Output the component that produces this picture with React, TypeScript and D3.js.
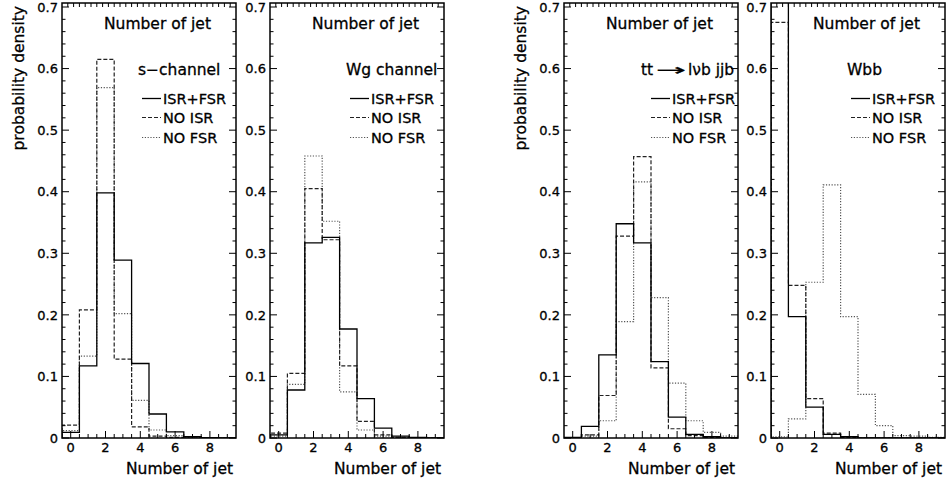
import React from "react";
import * as d3 from "d3";

// ---- data (probability density per jet-multiplicity bin, bins 0..9) ----
const binCenters = [0, 1, 2, 3, 4, 5, 6, 7, 8, 9];
const legendLabels = ["ISR+FSR", "NO ISR", "NO FSR"];
const xTickValues = [0, 2, 4, 6, 8];
const yTickValues = [0, 0.1, 0.2, 0.3, 0.4, 0.5, 0.6, 0.7];

const sChannelFull = [0.009, 0.117, 0.398, 0.289, 0.121, 0.039, 0.010, 0.002, 0.0005, 0];
const sChannelNoISR = [0.021, 0.208, 0.615, 0.128, 0.018, 0.003, 0.001, 0, 0, 0];
const sChannelNoFSR = [0.012, 0.133, 0.569, 0.202, 0.061, 0.013, 0.004, 0.001, 0, 0];

const wgFull = [0.005, 0.078, 0.317, 0.326, 0.177, 0.064, 0.016, 0.003, 0.001, 0];
const wgNoISR = [0.008, 0.105, 0.405, 0.322, 0.117, 0.027, 0.005, 0.001, 0, 0];
const wgNoFSR = [0.003, 0.087, 0.458, 0.352, 0.075, 0.013, 0.003, 0.001, 0, 0];

const ttFull = [0.001, 0.019, 0.135, 0.348, 0.317, 0.124, 0.034, 0.006, 0.002, 0];
const ttNoISR = [0, 0.005, 0.069, 0.328, 0.457, 0.114, 0.015, 0.004, 0.001, 0];
const ttNoFSR = [0, 0.003, 0.028, 0.189, 0.416, 0.228, 0.089, 0.028, 0.009, 0.003];

const wbbFull = [0.745, 0.197, 0.050, 0.006, 0.002, 0, 0, 0, 0, 0];
const wbbNoISR = [0.675, 0.248, 0.064, 0.008, 0.001, 0, 0, 0, 0, 0];
const wbbNoFSR = [0.002, 0.031, 0.253, 0.411, 0.197, 0.071, 0.020, 0.004, 0.003, 0.001];

const panelTitles = ["s\u2212channel", "Wg channel", "tt", "Wbb"];

// ---- layout ----
const W = 951;
const H = 488;
const panelLefts = [62, 270, 564, 771];
const panelWidth = 174;
const frameTop = 3;
const frameBottom = 438;
const FONT = "DejaVu Sans, Liberation Sans, sans-serif";

const styles = [
  { stroke: "#000", dash: null as string | null, width: 1.3 },
  { stroke: "#222", dash: "4,2", width: 1.2 },
  { stroke: "#555", dash: "1.2,1.6", width: 1.2 },
];

const panels = [
  { series: [sChannelFull, sChannelNoISR, sChannelNoFSR], title: 0, yLabel: true, legendDx: 0 },
  { series: [wgFull, wgNoISR, wgNoFSR], title: 1, yLabel: false, legendDx: 0 },
  { series: [ttFull, ttNoISR, ttNoFSR], title: 2, yLabel: true, legendDx: 7 },
  { series: [wbbFull, wbbNoISR, wbbNoFSR], title: 3, yLabel: false, legendDx: 0 },
];

const textInk = { fill: "#000", stroke: "#000", strokeWidth: 0.3 };

function Panel({ idx }: { idx: number }) {
  const p = panels[idx];
  const left = panelLefts[idx];
  const right = left + panelWidth;
  const x = d3.scaleLinear().domain([-0.5, 9.5]).range([left, right]);
  const y = d3.scaleLinear().domain([0, 0.7065]).range([frameBottom, frameTop]);

  const stepLine = d3
    .line<[number, number]>()
    .x((d) => x(d[0]))
    .y((d) => y(d[1]));

  const histPath = (vals: number[]) => {
    const pts: [number, number][] = [[binCenters[0] - 0.5, 0]];
    vals.forEach((v, i) => {
      pts.push([binCenters[i] - 0.5, v]);
      pts.push([binCenters[i] + 0.5, v]);
    });
    pts.push([binCenters[binCenters.length - 1] + 0.5, 0]);
    return stepLine(pts) || "";
  };

  const yMinor = d3.range(0, 0.7001, 0.02);
  const xMinor = d3.range(-0.5, 9.5001, 0.5).filter((v) => v > -0.5 && v < 9.5);
  const topMinor = d3.range(1, 30).map((k) => -0.5 + k / 3);
  const clipId = `clip${idx}`;

  const lx = left + 80 + p.legendDx;
  const legendRows = [98.5, 117.5, 137.5];

  return (
    <g>
      <defs>
        <clipPath id={clipId}>
          <rect x={left} y={frameTop} width={panelWidth} height={frameBottom - frameTop} />
        </clipPath>
      </defs>
      {/* histograms */}
      <g clipPath={`url(#${clipId})`} fill="none">
        {[2, 1, 0].map((s) => (
          <path
            key={s}
            d={histPath(p.series[s])}
            stroke={styles[s].stroke}
            strokeWidth={styles[s].width}
            strokeDasharray={styles[s].dash || undefined}
          />
        ))}
      </g>
      {/* ticks */}
      <g stroke="#000" strokeWidth={1}>
        {yMinor.map((v, i) => {
          const major = i % 5 === 0;
          const len = major ? 7 : 3.5;
          return (
            <g key={`y${i}`}>
              <line x1={left} x2={left + len} y1={y(v)} y2={y(v)} />
              <line x1={right} x2={right - len} y1={y(v)} y2={y(v)} />
            </g>
          );
        })}
        {xMinor.map((v, i) => {
          const major = Math.abs(v % 2) < 1e-6;
          const len = major ? 7 : 4;
          return <line key={`x${i}`} x1={x(v)} x2={x(v)} y1={frameBottom} y2={frameBottom - len} />;
        })}
        {topMinor.map((v, i) => (
          <line key={`t${i}`} x1={x(v)} x2={x(v)} y1={frameTop} y2={frameTop + 4} />
        ))}
      </g>
      {/* frame */}
      <rect
        x={left}
        y={frameTop}
        width={panelWidth}
        height={frameBottom - frameTop}
        fill="none"
        stroke="#000"
        strokeWidth={1.5}
      />
      {/* tick labels */}
      <g fontFamily={FONT} fontSize={13} {...textInk}>
        {yTickValues.map((v) => (
          <text key={`yl${v}`} x={left - 4} y={y(v)} dy="0.36em" textAnchor="end">
            {v === 0 ? "0" : d3.format(".1f")(v)}
          </text>
        ))}
        {xTickValues.map((v) => (
          <text key={`xl${v}`} x={x(v)} y={452} textAnchor="middle">
            {v}
          </text>
        ))}
      </g>
      {/* titles */}
      <g fontFamily={FONT} fontSize={15.5} {...textInk}>
        <text x={left + 42} y={29}>Number of jet</text>
        <text x={right - 3} y={474} textAnchor="end">Number of jet</text>
        {p.yLabel && (
          <text transform={`translate(${left - 38},6) rotate(-90)`} textAnchor="end">
            probability density
          </text>
        )}
        {idx === 2 ? (
          <g>
            <text x={left + 77} y={75}>tt</text>
            <text x={left + 92} y={75} textLength={30} lengthAdjust="spacingAndGlyphs">{"\u2192"}</text>
            <text x={left + 124} y={75}>{"l\u03BDb jjb"}</text>
          </g>
        ) : (
          <text x={left + 76} y={75}>{panelTitles[p.title]}</text>
        )}
      </g>
      {/* legend */}
      <g fontFamily={FONT} fontSize={14.5} {...textInk}>
        {legendLabels.map((lab, i) => (
          <g key={lab}>
            <line
              x1={lx}
              x2={lx + 19}
              y1={legendRows[i]}
              y2={legendRows[i]}
              stroke={styles[i].stroke}
              strokeWidth={styles[i].width}
              strokeDasharray={styles[i].dash || undefined}
            />
            <text x={lx + 21} y={legendRows[i] + 5.5}>{lab}</text>
          </g>
        ))}
      </g>
    </g>
  );
}

export default function App() {
  return (
    <svg
      width={W}
      height={H}
      viewBox={`0 0 ${W} ${H}`}
      style={{ position: "absolute", left: 0, top: 0, background: "#fff" }}
    >
      <rect x={0} y={0} width={W} height={H} fill="#fff" />
      {panels.map((_, i) => (
        <Panel key={i} idx={i} />
      ))}
    </svg>
  );
}
